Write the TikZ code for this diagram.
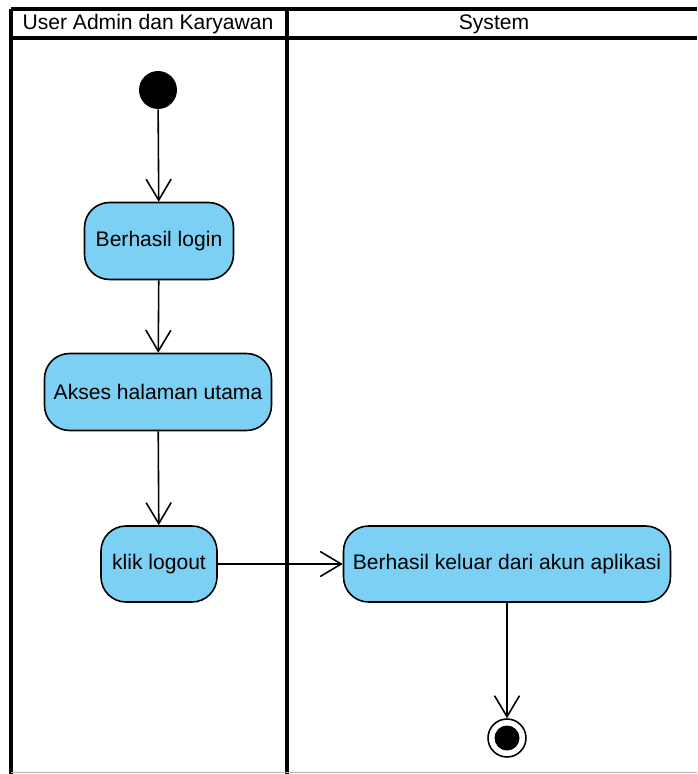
\documentclass[tikz,border=0pt]{standalone}
\usepackage{fontspec}
\setmainfont{Liberation Sans}
\usetikzlibrary{arrows.meta,positioning}
\definecolor{actblue}{RGB}{123,208,244}

\begin{document}
\begin{tikzpicture}[x=0.02cm,y=-0.02cm,>={Straight Barb[length=0.42cm,width=0.5cm,line width=0.9pt]},font=\fontsize{12}{14}\selectfont]
\tikzstyle{act}=[draw,line width=0.9pt,fill=actblue,rounded corners=0.5cm,inner sep=0pt,minimum height=1.54cm]
\tikzstyle{lane}=[line width=2.2pt]
\tikzstyle{flow}=[->,line width=0.9pt]
\useasboundingbox (0,0) rectangle (697,774);
% swimlanes
\draw[lane] (11,9) -- (697,9);
\draw[lane] (11,38) -- (697,38);
\draw[lane] (11,9) -- (11,774);
\draw[lane] (287,9) -- (287,774);
\draw[gray!60,line width=0.4pt] (11,772.5) -- (697,772.5);
\node (laneUser) at (148,24) {User Admin dan Karyawan};
\node (laneSys) at (494,24) {System};
% start and end
\node[circle,fill=black,minimum size=0.76cm,inner sep=0pt] (start) at (158,90) {};
\node[circle,draw,line width=0.9pt,minimum size=0.76cm,inner sep=0pt] (finish) at (507,738) {};
\node[circle,fill=black,minimum size=0.5cm,inner sep=0pt] (finishDot) at (507,738) {};
% activities
\node[act,minimum width=2.98cm] (login) at (159,241) {Berhasil login};
\node[act,minimum width=4.54cm] (akses) at (158,392) {Akses halaman utama};
\node[act,minimum width=2.32cm,minimum height=1.52cm] (logout) at (159,564) {klik logout};
\node[act,minimum width=6.54cm,minimum height=1.52cm] (keluar) at (507,564) {Berhasil keluar dari akun aplikasi};
% flows
\draw[flow] (start) -- (login);
\draw[flow] (login) -- (akses);
\draw[flow] (akses) -- (logout);
\draw[flow] (logout) -- (keluar);
\draw[flow] (keluar) -- (finish);
\end{tikzpicture}
\end{document}
